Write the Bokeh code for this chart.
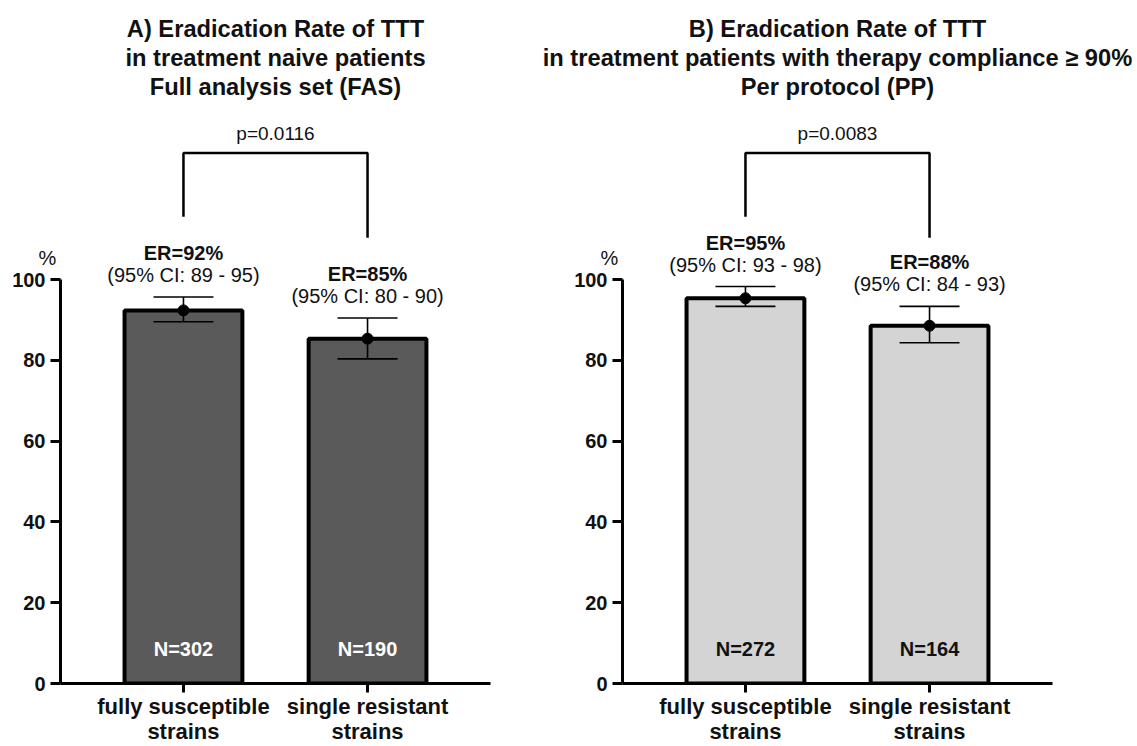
from bokeh.plotting import figure
from bokeh.models import Range1d, FixedTicker, ColumnDataSource, Whisker, TeeHead
from bokeh.layouts import row
from bokeh.core.properties import value
from bokeh.embed import file_html
from bokeh.resources import INLINE

# ---------------- data ----------------
categories = ["fully susceptible\nstrains", "single resistant\nstrains"]
positions = [1, 2]
y_ticks = [0, 20, 40, 60, 80, 100]

fas_title = ["A) Eradication Rate of TTT",
             "in treatment naive patients",
             "Full analysis set (FAS)"]
fas_rate = [92.4, 85.4]
fas_ci_low = [89.6, 80.4]
fas_ci_high = [95.7, 90.5]
fas_er_labels = ["ER=92%", "ER=85%"]
fas_ci_labels = ["(95% CI: 89 - 95)", "(95% CI: 80 - 90)"]
fas_n_labels = ["N=302", "N=190"]
fas_p_label = "p=0.0116"

pp_title = ["B) Eradication Rate of TTT",
            "in treatment patients with therapy compliance \u2265 90%",
            "Per protocol (PP)"]
pp_rate = [95.4, 88.6]
pp_ci_low = [93.4, 84.4]
pp_ci_high = [98.3, 93.4]
pp_er_labels = ["ER=95%", "ER=88%"]
pp_ci_labels = ["(95% CI: 93 - 98)", "(95% CI: 84 - 93)"]
pp_n_labels = ["N=272", "N=164"]
pp_p_label = "p=0.0083"

# ---------------- layout constants ----------------
FONT = value("Liberation Sans")
X_RANGE = (0.332, 2.668)
Y_TOP = 169.14
TITLE_Y = [162.2, 154.8, 147.65]
P_LABEL_Y = 136.3
BRACKET_TOP = 131.4
BRACKET_LEGS = [115.6, 110.4]
PCT_Y = 105.4
N_LABEL_Y = 8.6
FIG_H = 746


def make_panel(width, border_left, border_right, title, rate, lo, hi,
               er_labels, ci_labels, n_labels, p_label, fill, n_color):
    p = figure(width=width, height=FIG_H, output_backend="svg",
               toolbar_location=None,
               x_range=Range1d(*X_RANGE), y_range=Range1d(0, Y_TOP),
               min_border_left=border_left, min_border_right=border_right,
               min_border_top=0, min_border_bottom=61)
    p.outline_line_color = None
    p.xgrid.grid_line_color = None
    p.ygrid.grid_line_color = None
    p.background_fill_color = "white"
    p.border_fill_color = "white"

    src = ColumnDataSource(dict(x=positions, rate=rate, lo=lo, hi=hi,
                                er=er_labels, ci=ci_labels, n=n_labels))

    p.vbar(x="x", top="rate", bottom=0, width=0.64, source=src,
           fill_color=fill, line_color="black", line_width=4)

    wh = Whisker(base="x", upper="hi", lower="lo", source=src,
                 line_color="black", line_width=1.6,
                 upper_head=TeeHead(size=60, line_color="black", line_width=1.6),
                 lower_head=TeeHead(size=60, line_color="black", line_width=1.6))
    wh.level = "overlay"
    p.add_layout(wh)

    dots = p.scatter(x="x", y="rate", source=src, size=11, color="black")
    dots.level = "overlay"

    t = p.text(x="x", y="hi", text="ci", source=src, text_font=FONT,
               text_font_size="20px", text_align="center",
               text_baseline="middle", y_offset=-22, text_color="#111111")
    t.level = "overlay"
    t = p.text(x="x", y="hi", text="er", source=src, text_font=FONT,
               text_font_size="20px", text_font_style="bold",
               text_align="center", text_baseline="middle", y_offset=-44,
               text_color="#111111")
    t.level = "overlay"
    t = p.text(x="x", y=N_LABEL_Y, text="n", source=src, text_font=FONT,
               text_font_size="20px", text_font_style="bold",
               text_align="center", text_baseline="middle",
               text_color=n_color)
    t.level = "overlay"

    # significance bracket
    br = p.line(x=[positions[0], positions[0], positions[1], positions[1]],
                y=[BRACKET_LEGS[0], BRACKET_TOP, BRACKET_TOP, BRACKET_LEGS[1]],
                line_color="black", line_width=2.5)
    br.level = "overlay"
    t = p.text(x=[(positions[0] + positions[1]) / 2], y=[P_LABEL_Y],
               text=[p_label], text_font=FONT, text_font_size="19px",
               text_align="center", text_baseline="middle",
               text_color="#111111")
    t.level = "overlay"

    # panel title
    mid = (X_RANGE[0] + X_RANGE[1]) / 2
    t = p.text(x=[mid] * 3, y=TITLE_Y, text=title, text_font=FONT,
               text_font_size="23.7px", text_font_style="bold",
               text_align="center", text_baseline="middle",
               text_color="#111111")
    t.level = "overlay"

    # % unit label
    t = p.text(x=[X_RANGE[0]], y=[PCT_Y], text=["%"], text_font=FONT,
               text_font_size="20px", text_align="center",
               text_baseline="middle", x_offset=-13, text_color="#111111")
    t.level = "overlay"

    # axes
    ya = p.yaxis[0]
    ya.ticker = FixedTicker(ticks=y_ticks)
    ya.bounds = (0, 100)
    ya.axis_line_width = 3
    ya.major_tick_line_width = 3
    ya.major_tick_out = 10
    ya.major_tick_in = 0
    ya.minor_tick_line_color = None
    ya.major_label_text_font = "Liberation Sans"
    ya.major_label_text_font_style = "bold"
    ya.major_label_text_font_size = "20px"
    ya.major_label_text_color = "#111111"
    ya.major_label_standoff = 5

    xa = p.xaxis[0]
    xa.ticker = FixedTicker(ticks=positions)
    xa.major_label_overrides = {positions[0]: categories[0],
                                positions[1]: categories[1]}
    xa.axis_line_width = 3
    xa.major_tick_line_width = 3
    xa.major_tick_out = 9
    xa.major_tick_in = 0
    xa.minor_tick_line_color = None
    xa.major_label_text_font = "Liberation Sans"
    xa.major_label_text_font_style = "bold"
    xa.major_label_text_font_size = "22px"
    xa.major_label_text_line_height = 1.0
    xa.major_label_text_color = "#111111"
    xa.major_label_standoff = 1
    return p


p1 = make_panel(540, 60, 50, fas_title, fas_rate, fas_ci_low, fas_ci_high,
                fas_er_labels, fas_ci_labels, fas_n_labels, fas_p_label,
                "#5a5a5a", "white")
p2 = make_panel(597, 82, 85, pp_title, pp_rate, pp_ci_low, pp_ci_high,
                pp_er_labels, pp_ci_labels, pp_n_labels, pp_p_label,
                "#d4d4d4", "#111111")

layout = row(p1, p2)
open("out.html", "w").write(file_html(layout, INLINE))
